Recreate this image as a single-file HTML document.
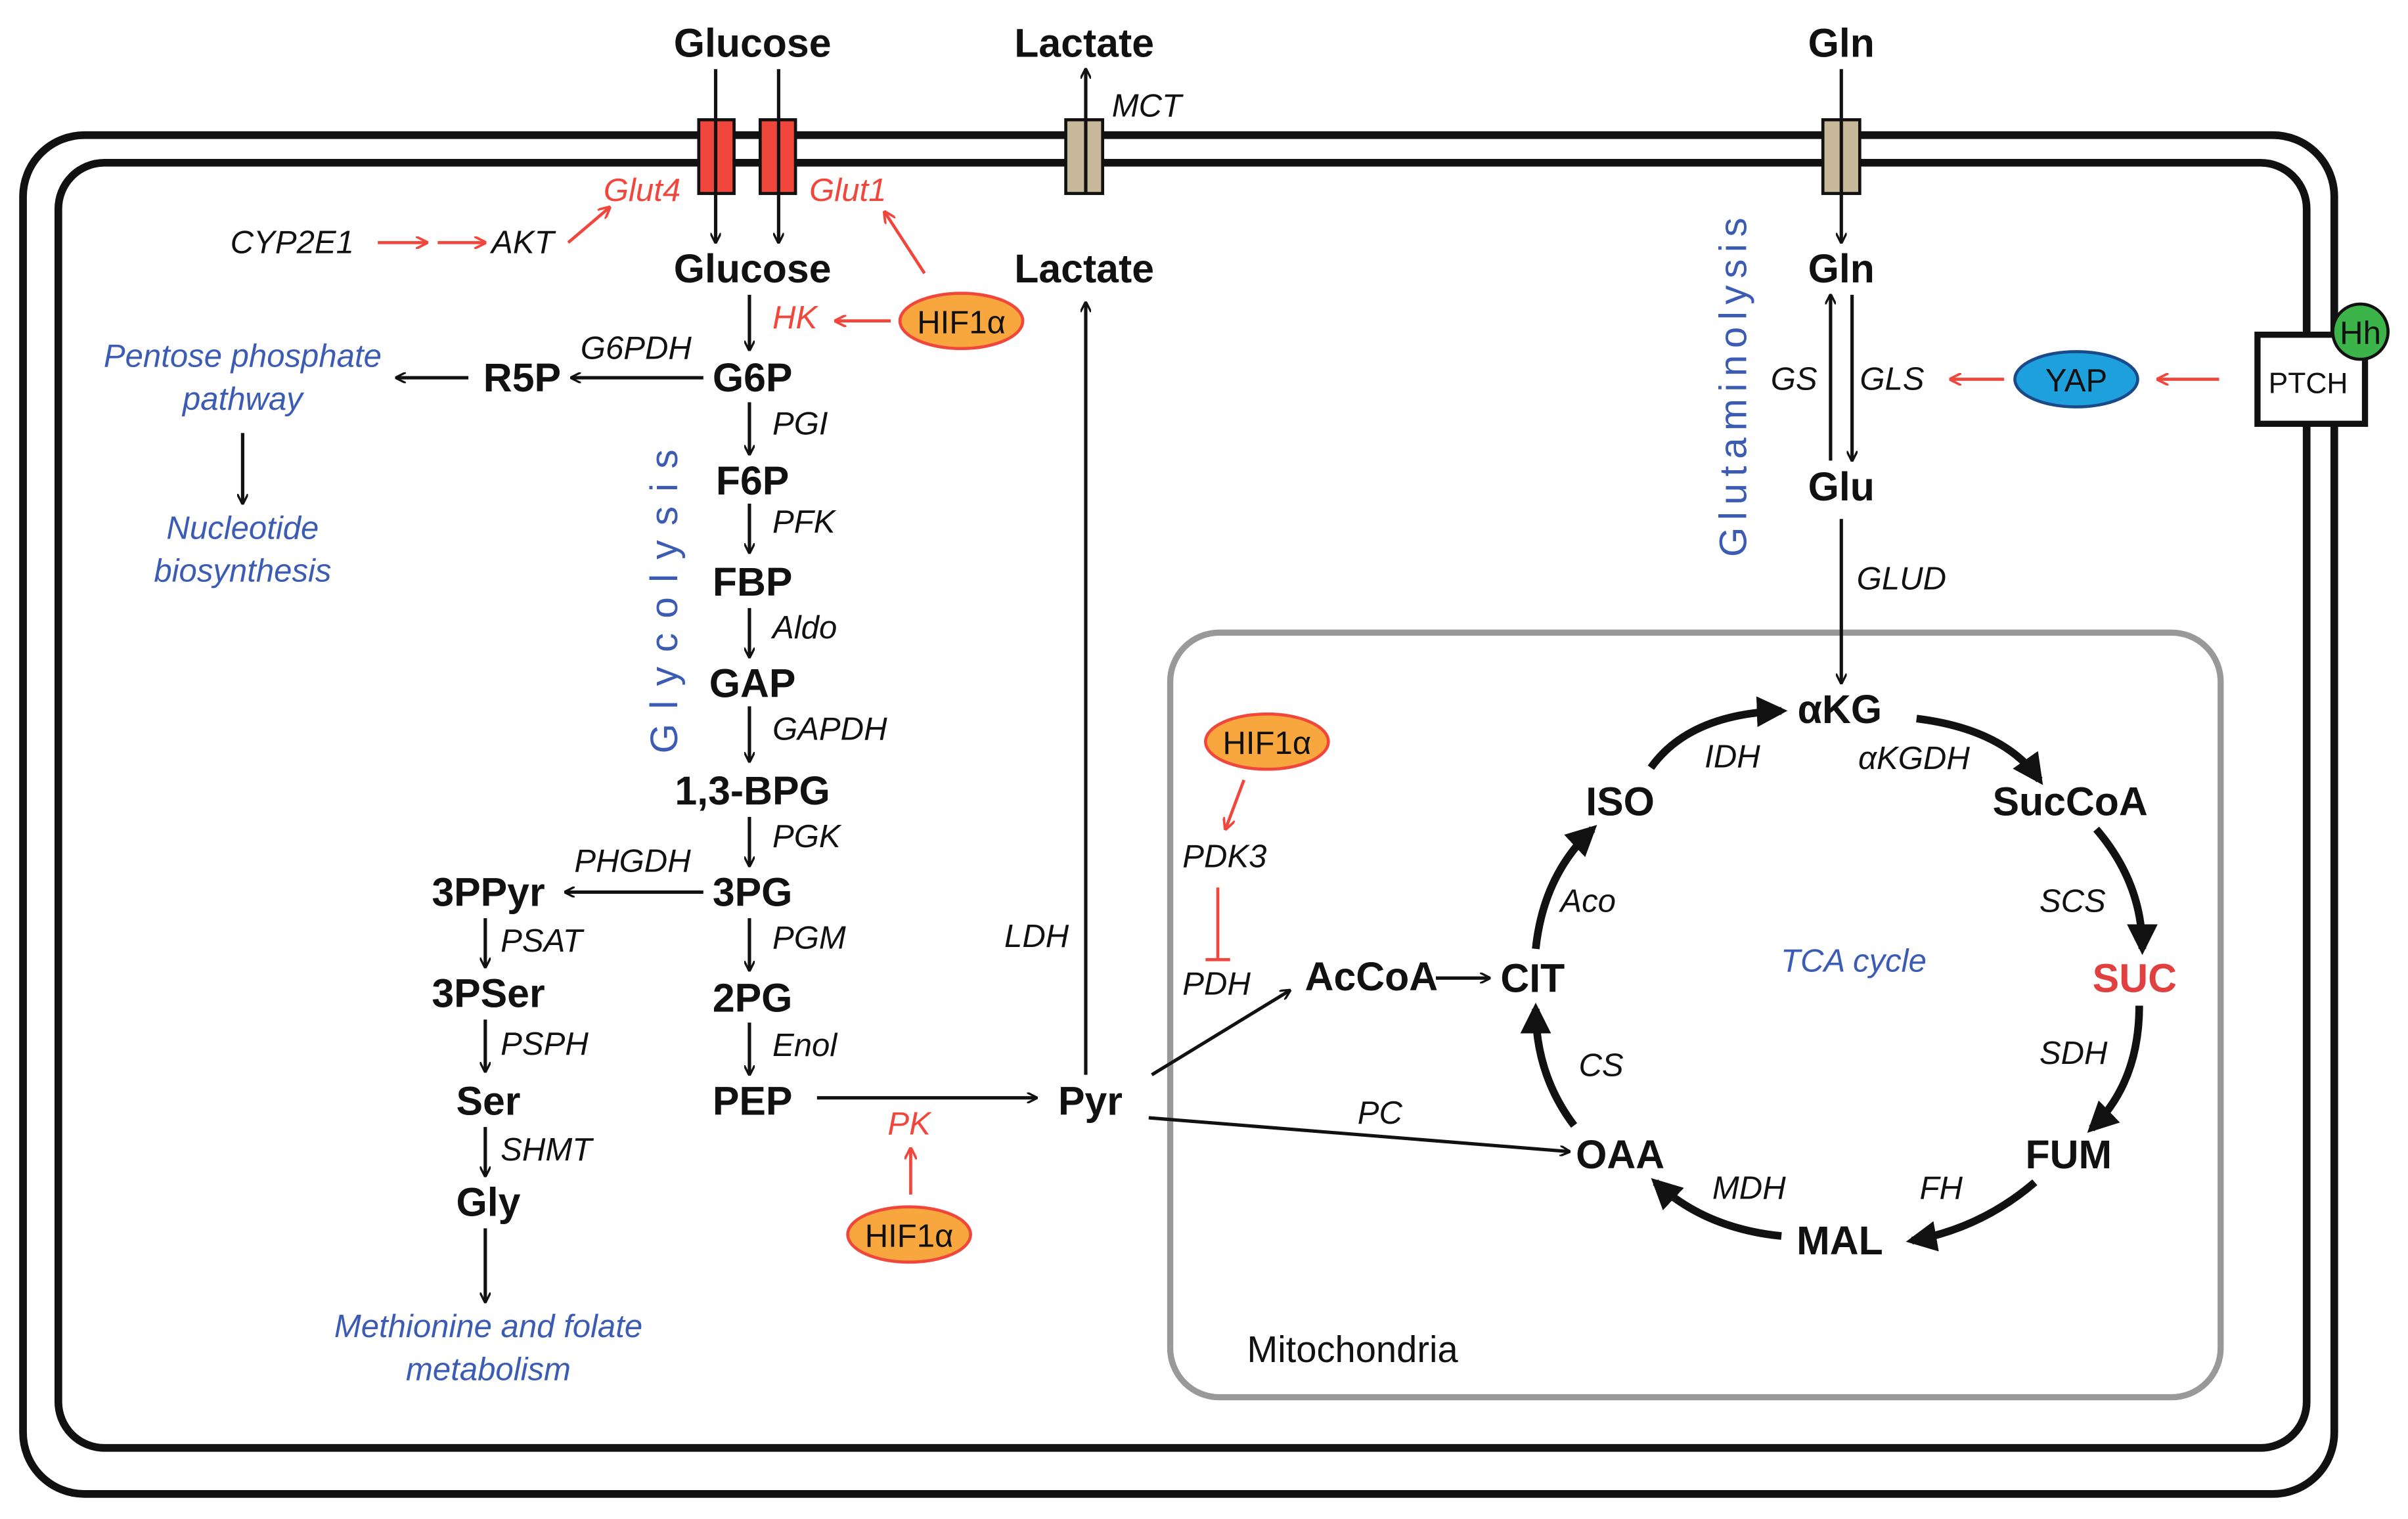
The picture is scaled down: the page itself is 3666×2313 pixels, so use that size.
<!DOCTYPE html>
<html><head><meta charset="utf-8"><style>html,body{margin:0;padding:0;background:#fff}svg{display:block}</style></head>
<body>
<svg width="3666" height="2313" viewBox="0 0 1568 989.3" preserveAspectRatio="none" xmlns="http://www.w3.org/2000/svg" font-family="Liberation Sans, sans-serif">
<defs>
<marker id="a" viewBox="0 0 10 10" refX="9" refY="5" markerWidth="7" markerHeight="7" markerUnits="userSpaceOnUse" orient="auto"><path d="M0,0 L10,5 L0,10" fill="none" stroke="#111" stroke-width="2"/></marker>
<marker id="ab" viewBox="0 0 10 10" refX="8" refY="5" markerWidth="4" markerHeight="4" orient="auto"><path d="M0,0 L10,5 L0,10 z" fill="#111"/></marker>
<marker id="r" viewBox="0 0 10 10" refX="9" refY="5" markerWidth="8" markerHeight="8" markerUnits="userSpaceOnUse" orient="auto"><path d="M0,0 L10,5 L0,10" fill="none" stroke="#f0463c" stroke-width="2"/></marker>
</defs>
<rect x="15" y="88" width="1505" height="885" rx="40" fill="none" stroke="#111" stroke-width="5"/>
<rect x="38" y="106" width="1464" height="837" rx="30" fill="none" stroke="#111" stroke-width="5"/>
<rect x="762" y="412" width="684" height="498" rx="32" fill="none" stroke="#999" stroke-width="4"/>
<g stroke="#111" stroke-width="2">
<rect x="455" y="78" width="23" height="48" fill="#f0463c"/><rect x="495" y="78" width="23" height="48" fill="#f0463c"/>
<rect x="694" y="78" width="24" height="48" fill="#c8b89a"/><rect x="1187" y="78" width="24" height="48" fill="#c8b89a"/>
</g>
<rect x="1470" y="218" width="70" height="58" fill="#fff" stroke="#111" stroke-width="4"/>
<text x="1503" y="256" font-size="19" text-anchor="middle" fill="#111">PTCH</text>
<circle cx="1537" cy="216" r="18" fill="#3cb44a" stroke="#111" stroke-width="2"/>
<text x="1537" y="224" font-size="21" text-anchor="middle" fill="#111">Hh</text>
<g stroke="#111" stroke-width="2.2" fill="none" marker-end="url(#a)">
<line x1="466" y1="45" x2="466" y2="158"/><line x1="507" y1="45" x2="507" y2="158"/>
<line x1="707" y1="126" x2="707" y2="45"/><line x1="1199" y1="45" x2="1199" y2="158"/>
<line x1="1192" y1="300" x2="1192" y2="192"/><line x1="1206" y1="192" x2="1206" y2="300"/>
<line x1="1199" y1="338" x2="1199" y2="445"/>
<line x1="488" y1="192" x2="488" y2="228"/><line x1="488" y1="262" x2="488" y2="296"/>
<line x1="488" y1="328" x2="488" y2="360"/><line x1="488" y1="396" x2="488" y2="428"/>
<line x1="488" y1="460" x2="488" y2="496"/><line x1="488" y1="532" x2="488" y2="564"/>
<line x1="488" y1="598" x2="488" y2="632"/><line x1="488" y1="666" x2="488" y2="700"/>
<line x1="458" y1="246" x2="372" y2="246"/><line x1="305" y1="246" x2="258" y2="246"/>
<line x1="158" y1="282" x2="158" y2="328"/><line x1="458" y1="581" x2="368" y2="581"/>
<line x1="316" y1="598" x2="316" y2="630"/><line x1="316" y1="664" x2="316" y2="698"/>
<line x1="316" y1="734" x2="316" y2="766"/><line x1="316" y1="800" x2="316" y2="848"/>
<line x1="532" y1="715" x2="675" y2="715"/><line x1="707" y1="700" x2="707" y2="197"/>
<line x1="750" y1="700" x2="840" y2="645"/><line x1="748" y1="728" x2="1022" y2="750"/>
<line x1="935" y1="637" x2="970" y2="637"/>
</g>
<g stroke="#111" stroke-width="5" fill="none" marker-end="url(#ab)">
<path d="M1075,500 Q1100,465 1160,463"/><path d="M1248,468 Q1305,475 1328,508"/>
<path d="M1365,540 Q1395,575 1395,618"/><path d="M1393,655 Q1393,705 1362,735"/>
<path d="M1325,770 Q1290,800 1245,808"/><path d="M1160,805 Q1110,800 1078,770"/>
<path d="M1025,733 Q1000,700 1000,657"/><path d="M1000,618 Q1005,570 1037,540"/>
</g>
<g stroke="#f0463c" stroke-width="2" fill="none" marker-end="url(#r)">
<line x1="246" y1="158" x2="278" y2="158"/><line x1="285" y1="158" x2="316" y2="158"/>
<line x1="370" y1="158" x2="397" y2="135"/><line x1="580" y1="209" x2="544" y2="209"/>
<line x1="602" y1="178" x2="576" y2="138"/><line x1="810" y1="508" x2="798" y2="540"/>
<line x1="593" y1="778" x2="593" y2="748"/><line x1="1305" y1="247" x2="1270" y2="247"/>
<line x1="1445" y1="247" x2="1405" y2="247"/>
</g>
<g stroke="#f0463c" stroke-width="2"><line x1="793" y1="578" x2="793" y2="625"/><line x1="785" y1="625" x2="801" y2="625"/></g>
<g stroke="#f0463c" stroke-width="2" fill="#f7a73d">
<ellipse cx="626" cy="209" rx="40" ry="18"/><ellipse cx="825" cy="483" rx="40" ry="18"/><ellipse cx="592" cy="804" rx="40" ry="18"/>
</g>
<ellipse cx="1352" cy="247" rx="40" ry="18" fill="#1ea0dc" stroke="#1a4a8a" stroke-width="2"/>
<g font-size="21" text-anchor="middle" fill="#111"><text x="626" y="217">HIF1α</text><text x="825" y="491">HIF1α</text><text x="592" y="812">HIF1α</text><text x="1352" y="255">YAP</text></g>
<g font-size="26" font-weight="bold" text-anchor="middle" fill="#111" dominant-baseline="central">
<text x="490" y="28">Glucose</text><text x="706" y="28">Lactate</text><text x="1199" y="28">Gln</text>
<text x="490" y="175">Glucose</text><text x="706" y="175">Lactate</text><text x="1199" y="175">Gln</text>
<text x="1199" y="317">Glu</text>
<text x="490" y="246">G6P</text><text x="490" y="313">F6P</text><text x="490" y="379">FBP</text><text x="490" y="445">GAP</text>
<text x="490" y="515">1,3-BPG</text><text x="490" y="581">3PG</text><text x="490" y="650">2PG</text><text x="490" y="717">PEP</text>
<text x="340" y="246">R5P</text><text x="318" y="581">3PPyr</text><text x="318" y="647">3PSer</text><text x="318" y="717">Ser</text><text x="318" y="783">Gly</text>
<text x="710" y="717">Pyr</text><text x="893" y="636">AcCoA</text><text x="998" y="637">CIT</text>
<text x="1198" y="462">αKG</text><text x="1348" y="522">SucCoA</text><text x="1390" y="637" fill="#e04040">SUC</text>
<text x="1347" y="752">FUM</text><text x="1198" y="808">MAL</text><text x="1055" y="752">OAA</text><text x="1055" y="522">ISO</text>
</g>
<g font-size="21" font-style="italic" fill="#111" dominant-baseline="central">
<text x="503" y="276">PGI</text><text x="503" y="340">PFK</text><text x="503" y="409">Aldo</text><text x="503" y="475">GAPDH</text>
<text x="503" y="545">PGK</text><text x="503" y="611">PGM</text><text x="503" y="681">Enol</text>
<text x="378" y="227">G6PDH</text><text x="374" y="561">PHGDH</text>
<text x="326" y="613">PSAT</text><text x="326" y="680">PSPH</text><text x="326" y="749">SHMT</text>
<text x="654" y="610">LDH</text><text x="724" y="69">MCT</text><text x="1209" y="377">GLUD</text>
<text x="1153" y="247">GS</text><text x="1211" y="247">GLS</text>
<text x="150" y="158">CYP2E1</text><text x="320" y="158">AKT</text>
<text x="770" y="558">PDK3</text><text x="770" y="641">PDH</text><text x="884" y="725">PC</text>
<text x="1110" y="493">IDH</text><text x="1210" y="494">αKGDH</text><text x="1016" y="587">Aco</text><text x="1328" y="587">SCS</text>
<text x="1028" y="694">CS</text><text x="1328" y="686">SDH</text><text x="1115" y="774">MDH</text><text x="1250" y="774">FH</text>
</g>
<g font-size="21" font-style="italic" fill="#f0463c" dominant-baseline="central">
<text x="393" y="124">Glut4</text><text x="527" y="124">Glut1</text><text x="503" y="207">HK</text><text x="578" y="732">PK</text>
</g>
<g font-size="21" font-style="italic" fill="#3c5cb4" text-anchor="middle" dominant-baseline="central">
<text x="158" y="232">Pentose phosphate</text><text x="158" y="260">pathway</text>
<text x="158" y="344">Nucleotide</text><text x="158" y="372">biosynthesis</text>
<text x="318" y="864">Methionine and folate</text><text x="318" y="892">metabolism</text>
<text x="1207" y="626">TCA cycle</text>
</g>
<g font-size="25" fill="#3c5cb4" text-anchor="middle">
<text transform="translate(441,387) rotate(-90)" letter-spacing="9.5">Glycolysis</text>
<text transform="translate(1137,250) rotate(-90)" letter-spacing="4.5">Glutaminolysis</text>
</g>
<text x="812" y="887" font-size="24" fill="#111">Mitochondria</text>
</svg>
</body></html>
